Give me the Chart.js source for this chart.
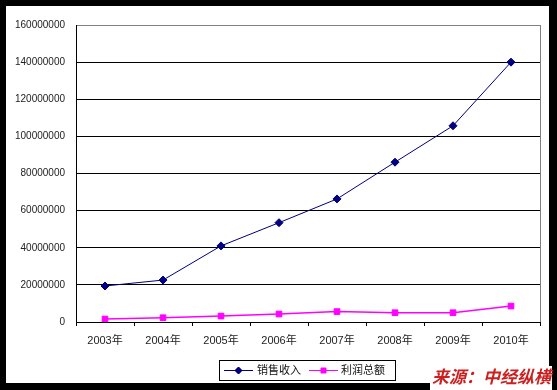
<!DOCTYPE html>
<html><head><meta charset="utf-8">
<script src="https://cdn.jsdelivr.net/npm/chart.js@4/dist/chart.umd.min.js"></script>
<style>html,body{margin:0;padding:0;background:#000;}canvas{display:block;}</style>
</head><body>
<div style="width:557px;height:390px;"><canvas id="c" width="557" height="390"></canvas></div>
<script>
const categories = ["2003年","2004年","2005年","2006年","2007年","2008年","2009年","2010年"];
const salesRevenue = [19400000, 22600000, 41000000, 53500000, 66300000, 86100000, 105700000, 140000000];
const totalProfit = [1600000, 2300000, 3200000, 4300000, 5600000, 5000000, 5000000, 8600000];
const yTicks = [0, 20000000, 40000000, 60000000, 80000000, 100000000, 120000000, 140000000, 160000000];
const seriesNames = ["销售收入", "利润总额"];
const sourceText = "来源：中经纵横";

const frame = {
  id: 'frame',
  beforeDraw(chart) {
    const ctx = chart.ctx;
    ctx.save();
    ctx.fillStyle = '#000';
    ctx.fillRect(0, 0, 557, 390);
    ctx.fillStyle = '#fff';
    ctx.fillRect(6, 6, 543, 377);
    ctx.restore();
  },
  afterDraw(chart) {
    const ctx = chart.ctx, a = chart.chartArea;
    ctx.save();
    ctx.strokeStyle = '#808080';
    ctx.lineWidth = 1;
    ctx.beginPath();
    ctx.moveTo(a.right + 0.5, a.top);
    ctx.lineTo(a.right + 0.5, a.bottom);
    ctx.stroke();
    ctx.strokeStyle = '#000';
    ctx.strokeRect(219.5, 360.5, 176, 20);
    const items = [
      {x1: 224, x2: 253, color: '#000080', style: 'rectRot', tx: 257},
      {x1: 309, x2: 338, color: '#FF00FF', style: 'rect', tx: 341}
    ];
    const cy = 370;
    items.forEach((it, i) => {
      ctx.strokeStyle = it.color;
      ctx.lineWidth = 1;
      ctx.beginPath();
      ctx.moveTo(it.x1, cy + 0.5);
      ctx.lineTo(it.x2, cy + 0.5);
      ctx.stroke();
      ctx.fillStyle = it.color;
      Chart.helpers.drawPoint(ctx, {pointStyle: it.style, radius: 3.5, borderWidth: 1}, (it.x1 + it.x2) / 2, cy + 0.5);
      ctx.fill();
      ctx.fillStyle = '#111';
      ctx.font = '11px "Noto Sans CJK SC", sans-serif';
      ctx.textBaseline = 'middle';
      ctx.textAlign = 'left';
      ctx.fillText(seriesNames[i], it.tx, cy);
    });
    ctx.fillStyle = '#fff';
    ctx.fillRect(430, 366, 122, 24);
    ctx.fillStyle = '#cc1f1f';
    ctx.font = 'italic bold 17px "Noto Sans CJK SC", sans-serif';
    ctx.textAlign = 'left';
    ctx.textBaseline = 'middle';
    ctx.fillText(sourceText, 432, 377);
    ctx.restore();
  }
};

new Chart(document.getElementById('c'), {
  type: 'line',
  data: {
    labels: categories,
    datasets: [
      {label: seriesNames[0], data: salesRevenue, borderColor: '#000080', backgroundColor: '#000080',
       borderWidth: 1, pointStyle: 'rectRot', pointRadius: 4, pointBorderWidth: 1, tension: 0},
      {label: seriesNames[1], data: totalProfit, borderColor: '#FF00FF', backgroundColor: '#FF00FF',
       borderWidth: 1.5, pointStyle: 'rect', pointRadius: 4, pointBorderWidth: 1, tension: 0}
    ]
  },
  options: {
    responsive: false,
    animation: false,
    layout: {padding: {left: 0, right: 17, top: 25, bottom: 0}},
    plugins: {legend: {display: false}, tooltip: {enabled: false}},
    scales: {
      x: {
        offset: true,
        afterFit(s) { s.height = 68; },
        grid: {display: true, offset: true, drawOnChartArea: false, drawTicks: true, tickLength: 4, color: '#000'},
        border: {color: '#000', width: 1},
        ticks: {color: '#222', font: {family: '"Liberation Sans", "Noto Sans CJK SC", sans-serif', size: 11}, padding: 8, maxRotation: 0, autoSkip: false}
      },
      y: {
        min: 0, max: 160000000,
        afterFit(s) { s.width = 76; },
        afterBuildTicks(s) { s.ticks = yTicks.map(v => ({value: v})); },
        grid: {drawTicks: false, color: c => (c.tick && c.tick.value === 160000000) ? '#808080' : '#000', lineWidth: 1},
        border: {color: '#000', width: 1},
        ticks: {color: '#222', font: {family: '"Liberation Sans", sans-serif', size: 10}, padding: 11,
          callback: v => String(v)}
      }
    }
  },
  plugins: [frame]
});
</script>
</body></html>
